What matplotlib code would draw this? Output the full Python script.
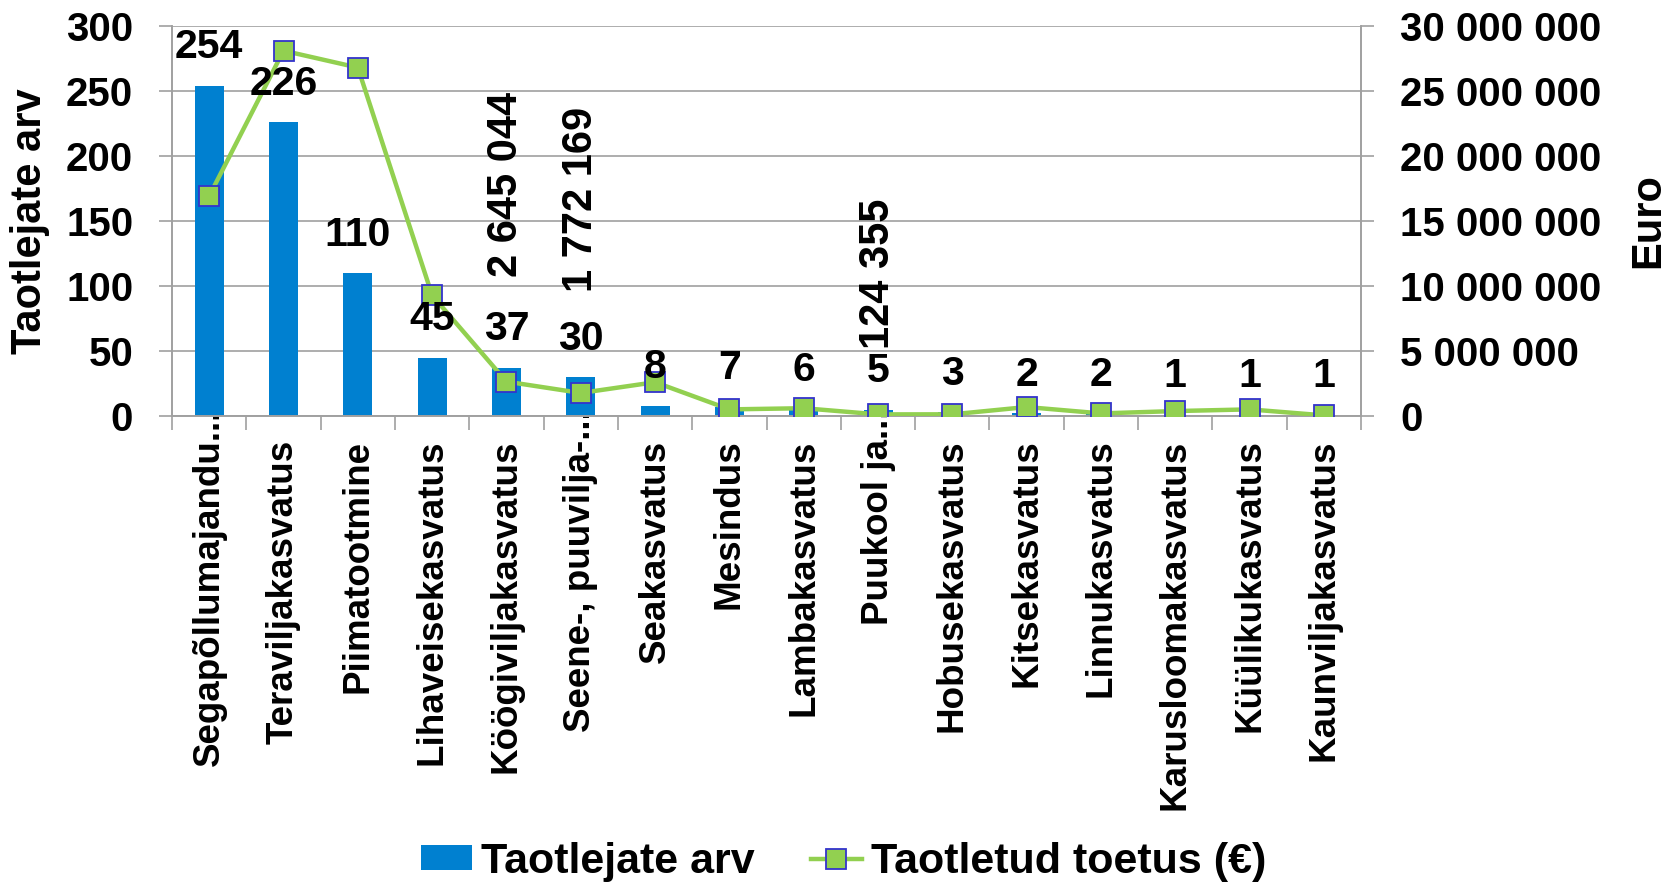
import matplotlib
matplotlib.use('Agg')
import matplotlib.pyplot as plt
from matplotlib.ticker import FuncFormatter, MultipleLocator
from matplotlib.lines import Line2D
from matplotlib.patches import Patch
from matplotlib.transforms import ScaledTranslation
import numpy as np

# Data
categories = ["Segapõllumajandu...", "Teraviljakasvatus", "Piimatootmine",
              "Lihaveisekasvatus", "Köögiviljakasvatus", "Seene-, puuvilja-...",
              "Seakasvatus", "Mesindus", "Lambakasvatus", "Puukool ja...",
              "Hobusekasvatus", "Kitsekasvatus", "Linnukasvatus",
              "Karusloomakasvatus", "Küülikukasvatus", "Kaunviljakasvatus"]
applicants = [254, 226, 110, 45, 37, 30, 8, 7, 6, 5, 3, 2, 2, 1, 1, 1]
support = [16920000, 28100000, 26800000, 9280000, 2645044, 1772169, 2600000,
           510000, 600000, 124355, 130000, 690000, 200000, 380000, 510000, 50000]
# which points of the line carry a value label
support_labelled = [4, 5, 9]

bar_label = "Taotlejate arv"
line_label = "Taotletud toetus (€)"

font = ['Liberation Sans', 'DejaVu Sans']
grid_col = '#A0A0A0'
bar_col = '#0080D0'
green = '#92D050'
edge_blue = '#3333CC'


def spaced(v, pos=None):
    return f"{int(round(v)):,}".replace(",", " ")


fig = plt.figure(figsize=(16.77, 8.84), dpi=100)
ax = fig.add_axes([0.1026, 0.5294, 0.709, 0.4412])
ax2 = ax.twinx()

x = np.arange(len(categories))

# Bars
ax.bar(x, applicants, width=0.39, color=bar_col, zorder=2)

# Line on secondary axis
ax2.plot(x, support, color=green, lw=3.2, marker='s', markersize=14.5,
         markerfacecolor=green, markeredgecolor=edge_blue, markeredgewidth=1.3,
         zorder=3)

# bar value labels, drawn above the line like in the original
for xi, v in zip(x, applicants):
    ax2.annotate(str(v), (xi, v), xycoords=ax.transData, xytext=(0, 14),
                 textcoords='offset points', ha='center', va='bottom',
                 fontsize=29.5, fontweight='bold', family=font, zorder=5)

label_offsets = [75, 73, 47]
for i, off in zip(support_labelled, label_offsets):
    ax2.annotate(spaced(support[i]), (x[i], support[i]), xytext=(0, off),
                 textcoords='offset points', ha='center', va='bottom',
                 rotation=90, fontsize=30, fontweight='bold', family=font)

# Axes limits and ticks
ax.set_xlim(-0.5, len(categories) - 0.5)
ax.set_ylim(0, 300)
ax2.set_ylim(0, 30000000)
ax.yaxis.set_major_locator(MultipleLocator(50))
ax2.yaxis.set_major_locator(MultipleLocator(5000000))
ax2.yaxis.set_major_formatter(FuncFormatter(spaced))

ax.set_xticks(x)
ax.set_xticklabels(categories, rotation=90, fontsize=26.5, fontweight='bold',
                   family=font, va='top')
ax.set_xticks(np.arange(-0.5, len(categories)), minor=True)
ax.tick_params(axis='x', which='major', length=0, pad=17)
ax.tick_params(axis='x', which='minor', length=10, width=1.2, color=grid_col)
ax.tick_params(axis='y', length=9.5, width=1.2, color=grid_col, pad=18.5)
ax2.tick_params(axis='y', length=9.5, width=1.2, color=grid_col, pad=18.5)

# truncated labels: the ellipsis reaches up past the normal label start
for lbl in ax.get_xticklabels():
    if lbl.get_text().endswith('...'):
        shift = 0.834 * 26.5 / 72
        lbl.set_transform(lbl.get_transform() +
                          ScaledTranslation(0, shift, fig.dpi_scale_trans))

for lbl in ax.get_yticklabels() + ax2.get_yticklabels():
    lbl.set_fontsize(29)
    lbl.set_fontweight('bold')
    lbl.set_family(font)

ax.yaxis.grid(True, color=grid_col, lw=1.2, zorder=0)
ax.set_axisbelow(True)

for a in (ax, ax2):
    a.spines['top'].set_visible(False)
    for s in ('left', 'right', 'bottom'):
        a.spines[s].set_color(grid_col)
        a.spines[s].set_linewidth(1.2)

ax.set_ylabel("Taotlejate arv", fontsize=30, fontweight='bold', family=font)
ax.yaxis.set_label_coords(-0.1026, 0.5)
ax2.set_ylabel("Euro", fontsize=30, fontweight='bold', family=font)
ax2.yaxis.set_label_coords(1.225, 0.5)

# Legend
handles = [Patch(facecolor=bar_col, edgecolor='none'),
           Line2D([], [], color=green, lw=3.2, marker='s', markersize=14.5,
                  markerfacecolor=green, markeredgecolor=edge_blue,
                  markeredgewidth=1.3)]
fig.legend(handles, [bar_label, line_label], loc='center', ncol=2,
           bbox_to_anchor=(0.503, 0.025), frameon=False,
           prop={'family': font, 'weight': 'bold', 'size': 31},
           handlelength=1.2, handleheight=0.5, handletextpad=0.2,
           columnspacing=1.3, borderpad=0)

fig.savefig('out.png', dpi=100)
